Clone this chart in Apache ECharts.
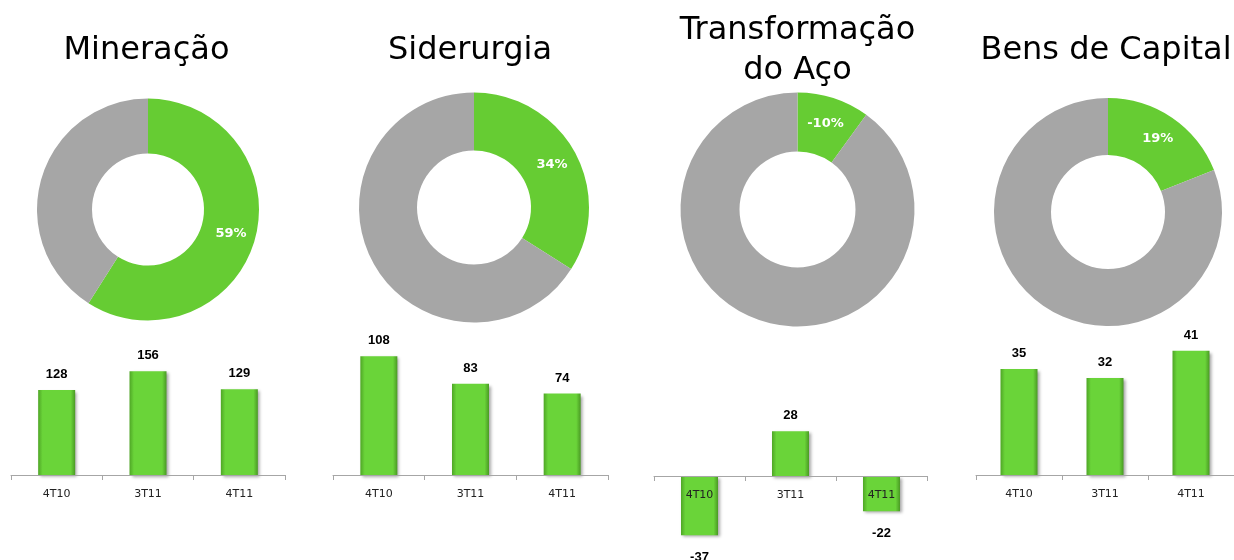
<!DOCTYPE html>
<html>
<head>
<meta charset="utf-8">
<script src="https://cdn.jsdelivr.net/npm/echarts@6/dist/echarts.min.js"></script>
<style>html,body{margin:0;padding:0;background:#fff}#c{width:1234px;height:560px}</style>
</head>
<body>
<div id="c"></div>
<script>
// ---- data ----
const panelTitles = ['Mineração', 'Siderurgia', 'Transformação\ndo Aço', 'Bens de Capital'];
const shareLabels = ['59%', '34%', '-10%', '19%'];
const greenShare = [59, 34, 10, 19];
const greyShare = [41, 66, 90, 81];
const quarters = ['4T10', '3T11', '4T11'];
const mineracao = [128, 156, 129];
const siderurgia = [108, 83, 74];
const transformacao = [-37, 28, -22];
const bensCapital = [35, 32, 41];
const barSeries = [mineracao, siderurgia, transformacao, bensCapital];

// ---- layout (styles only) ----
const FONT = 'DejaVu Sans';
const titleX = [141.5, 465, 792.5, 1101];
const titleTop = [26, 26, 6, 26];
const pieCenters = [[148, 209.5], [474, 207.5], [797.5, 209.5], [1108, 212]];
const pieRadii = [[56, 111], [57, 115], [58, 117], [57, 114]];
const grids = [
  {left: 11, width: 274, top: 342, height: 133},
  {left: 333, width: 275, top: 343, height: 132},
  {left: 654, width: 273, top: 412, height: 128},
  {left: 976, width: 271, top: 323.5, height: 151.5}
];
const yRanges = [[0, 200], [0, 120], [-40, 40], [0, 50]];
const axisOffsets = [0, 0, -64, 0];

const GREEN = '#66CC33';
const GREY = '#A6A6A6';
const barColor = new echarts.graphic.LinearGradient(0, 0, 1, 0, [
  {offset: 0, color: '#4fa626'},
  {offset: 0.12, color: '#6ad439'},
  {offset: 0.88, color: '#6ad439'},
  {offset: 1, color: '#4a9a24'}
]);

const option = {
  animation: false,
  backgroundColor: '#fff',
  title: panelTitles.map((t, i) => ({
    text: t,
    left: titleX[i],
    top: titleTop[i],
    textAlign: 'center',
    textStyle: {fontFamily: FONT, fontSize: 32, fontWeight: 'normal', color: '#000', lineHeight: 40}
  })),
  grid: grids.map(g => Object.assign({containLabel: false}, g)),
  xAxis: grids.map((g, i) => ({
    type: 'category',
    gridIndex: i,
    data: quarters,
    z: 5,
    offset: axisOffsets[i],
    axisLine: {onZero: false, lineStyle: {color: '#a6a6a6', width: 1}},
    axisTick: {show: true, length: 5, lineStyle: {color: '#a6a6a6'}},
    axisLabel: {fontFamily: FONT, fontSize: 11, color: '#222', margin: 14}
  })),
  yAxis: grids.map((g, i) => ({
    type: 'value',
    gridIndex: i,
    min: yRanges[i][0],
    max: yRanges[i][1],
    show: false,
    splitLine: {show: false}
  })),
  series: []
};

greenShare.forEach((v, i) => {
  option.series.push({
    type: 'pie',
    center: pieCenters[i],
    radius: pieRadii[i],
    startAngle: 90,
    clockwise: true,
    silent: true,
    label: {show: false},
    labelLine: {show: false},
    data: [
      {value: v, name: 'share', itemStyle: {color: GREEN},
       label: {show: true, position: 'inside', formatter: shareLabels[i], color: '#fff',
               fontFamily: FONT, fontSize: 13, fontWeight: 'bold'}},
      {value: greyShare[i], name: 'rest', itemStyle: {color: GREY}}
    ]
  });
});

barSeries.forEach((vals, i) => {
  option.series.push({
    type: 'bar',
    xAxisIndex: i,
    yAxisIndex: i,
    barWidth: 37,
    itemStyle: {color: barColor, shadowColor: 'rgba(0,0,0,0.35)', shadowBlur: 3, shadowOffsetX: 2, shadowOffsetY: 2},
    data: vals.map(v => ({
      value: v,
      label: {show: true, position: v < 0 ? 'bottom' : 'top', distance: v < 0 ? 16 : 9,
              fontFamily: 'Liberation Sans', fontSize: 13, fontWeight: 'bold', color: '#000'}
    }))
  });
});

const chart = echarts.init(document.getElementById('c'), null, {renderer: 'canvas'});
chart.setOption(option);
</script>
</body>
</html>
